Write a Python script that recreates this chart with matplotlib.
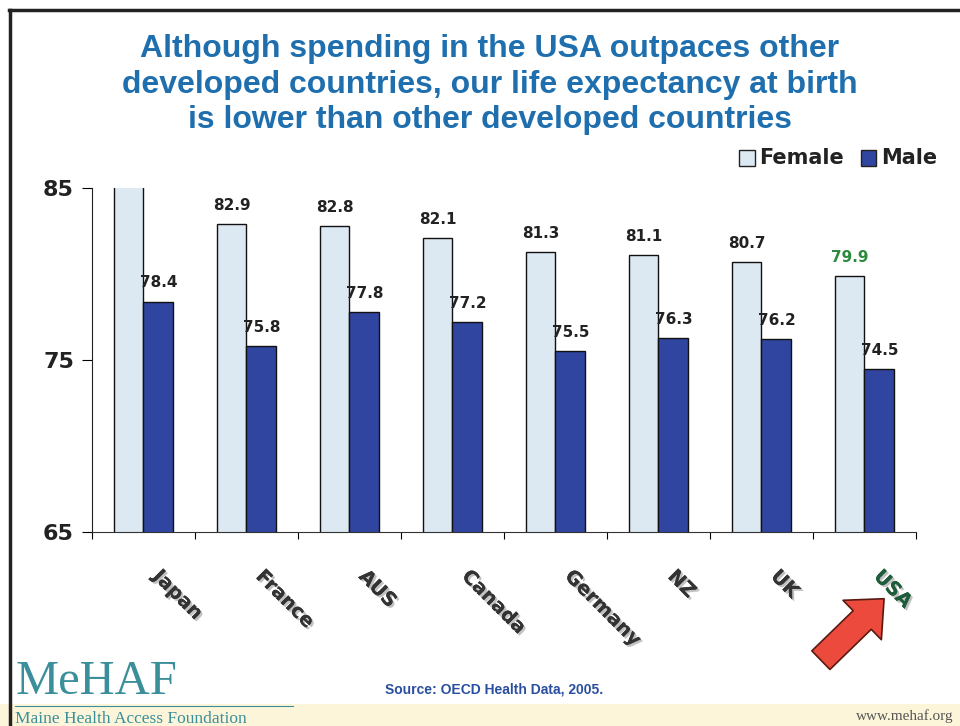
import matplotlib.pyplot as plt
import matplotlib.patheffects as pe
from matplotlib.patches import FancyArrowPatch, Rectangle
import numpy as np

countries = ['Japan', 'France', 'AUS', 'Canada', 'Germany', 'NZ', 'UK', 'USA']
female = [85.3, 82.9, 82.8, 82.1, 81.3, 81.1, 80.7, 79.9]
male = [78.4, 75.8, 77.8, 77.2, 75.5, 76.3, 76.2, 74.5]
yticks = [65, 75, 85]

title_blue = '#1f6fae'
fem_col = '#dce8f2'
male_col = '#3045a0'
green = '#2b8a3e'

fig = plt.figure(figsize=(9.6, 7.26), dpi=100)
fig.patch.set_facecolor('white')

# faint yellow band at the bottom + frame
fig.patches.append(Rectangle((0, 0), 1, 0.03, transform=fig.transFigure,
                             facecolor='#fcf5da', edgecolor='none', zorder=0))
fig.add_artist(plt.Line2D([0.0104, 0.0104], [0, 0.986], color='#222222', lw=2.5,
                          transform=fig.transFigure))
fig.add_artist(plt.Line2D([0.009, 1.0], [0.986, 0.986], color='#222222', lw=2.5,
                          transform=fig.transFigure))

ax = fig.add_axes([0.0958, 0.2672, 0.8583, 0.4738])
x = np.arange(len(countries))
w = 0.29
ax.bar(x - w / 2, female, w, color=fem_col, edgecolor='#111111', lw=1, zorder=2)
ax.bar(x + w / 2, male, w, color=male_col, edgecolor='#111111', lw=1, zorder=2)

ax.set_ylim(65, 85)
ax.set_xlim(-0.5, len(countries) - 0.5)

for i in range(len(countries)):
    if female[i] <= 85:
        c = green if countries[i] == 'USA' else '#222222'
        ax.annotate(f'{female[i]:.1f}', (x[i] - w / 2, female[i]), xytext=(0, 8),
                    textcoords='offset points', ha='center', va='bottom',
                    fontsize=11, fontweight='bold', color=c)
    ax.annotate(f'{male[i]:.1f}', (x[i] + w / 2, male[i]), xytext=(0, 8),
                textcoords='offset points', ha='center', va='bottom',
                fontsize=11, fontweight='bold', color='#222222')

ax.spines['top'].set_visible(False)
ax.spines['right'].set_visible(False)
ax.spines['left'].set_color('#222222')
ax.spines['bottom'].set_color('#333333')
ax.set_yticks(yticks)
ax.set_yticklabels([str(t) for t in yticks], fontsize=16, fontweight='bold', color='#222222')
ax.tick_params(axis='y', direction='out', length=7, pad=6)
ax.set_xticks(np.arange(-0.5, len(countries), 1))
ax.set_xticklabels([])
ax.tick_params(axis='x', direction='out', length=5)

shadow = [pe.withSimplePatchShadow(offset=(1.5, -1.5), shadow_rgbFace='#999999', alpha=0.6), pe.Normal()]
for i, name in enumerate(countries):
    c = '#1f5c3a' if name == 'USA' else '#333333'
    ax.text(x[i] + 0.12, 62.6, name, rotation=-45, rotation_mode='anchor',
            ha='left', va='center', fontsize=14, fontweight='bold', color=c,
            path_effects=shadow)

# title
fig.text(0.51, 0.953, 'Although spending in the USA outpaces other\n'
         'developed countries, our life expectancy at birth\n'
         'is lower than other developed countries',
         ha='center', va='top', fontsize=23, fontweight='bold', color=title_blue,
         family='Liberation Sans', linespacing=1.24)

# legend
fig.patches.append(Rectangle((0.770, 0.772), 0.016, 0.021, transform=fig.transFigure,
                             facecolor=fem_col, edgecolor='#222222', lw=1))
fig.text(0.791, 0.783, 'Female', fontsize=15, fontweight='bold', va='center', color='#222222')
fig.patches.append(Rectangle((0.897, 0.772), 0.016, 0.021, transform=fig.transFigure,
                             facecolor=male_col, edgecolor='#222222', lw=1))
fig.text(0.918, 0.783, 'Male', fontsize=15, fontweight='bold', va='center', color='#222222')

# arrow pointing at USA
arrow = FancyArrowPatch((0.853, 0.088), (0.923, 0.178), transform=fig.transFigure,
                        arrowstyle='simple,head_length=1.0,head_width=1.8,tail_width=0.85',
                        mutation_scale=22, facecolor='#ec4a3c', edgecolor='#5a1a12', lw=1.2)
fig.add_artist(arrow)

# footer
fig.text(0.016, 0.030, 'MeHAF', family='Liberation Serif', fontsize=35, color='#3a8f9a',
         va='bottom')
fig.add_artist(plt.Line2D([0.016, 0.305], [0.027, 0.027], color='#3a8f9a', lw=0.8,
                          transform=fig.transFigure))
fig.text(0.016, -0.002, 'Maine Health Access Foundation', family='Liberation Serif',
         fontsize=12.5, color='#3a8f9a', va='bottom')
fig.text(0.401, 0.0496, 'Source: OECD Health Data, 2005.', family='Liberation Sans',
         fontsize=10, fontweight='bold', color='#2a4fa0', va='center')
fig.text(0.993, 0.004, 'www.mehaf.org', family='Liberation Serif', fontsize=11,
         color='#555555', ha='right', va='bottom')

fig.savefig('out.png', dpi=100)
